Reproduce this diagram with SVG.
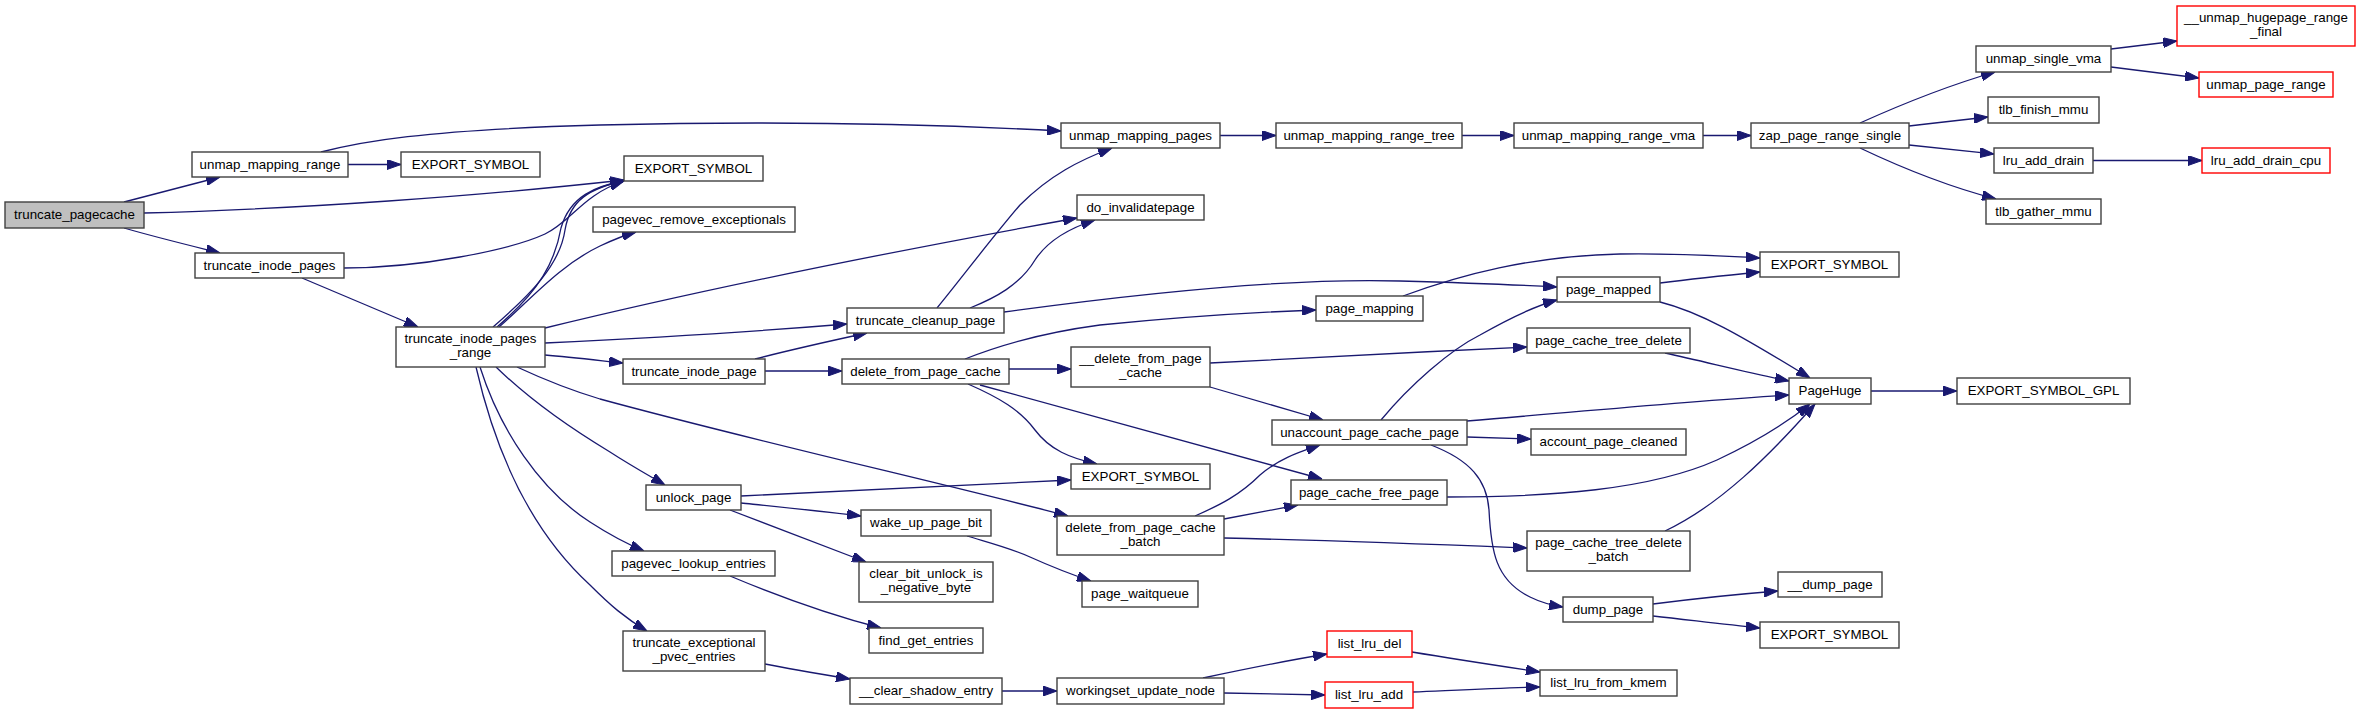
<svg xmlns="http://www.w3.org/2000/svg" width="2360" height="714" viewBox="0 0 2360 714">
<style>
.n rect{fill:#ffffff;stroke:#404040;stroke-width:1.4}
.n.r rect{stroke:#ff0000}
.n.root rect{fill:#bfbfbf}
.n text{font-family:"Liberation Sans",Arial,Helvetica,sans-serif;font-size:13.33px;text-anchor:middle;fill:#000000}
#edges path{fill:none;stroke:#191970;stroke-width:1.3;marker-end:url(#arr)}
</style>
<defs>
<marker id="arr" markerUnits="userSpaceOnUse" markerWidth="14" markerHeight="10" refX="14" refY="5" orient="auto">
<path d="M0,0 L14,5 L0,10 Z" fill="#191970" stroke="#191970" stroke-width="1"/>
</marker>
</defs>
<rect width="2360" height="714" fill="#ffffff"/>
<g id="edges">
<path d="M124,202 C150,195 185,186 220,177"/>
<path d="M144,213 C300,209 480,196 624,180"/>
<path d="M124,228 C155,237 188,245 220,253"/>
<path d="M348,164.5 L401,164.5"/>
<path d="M321,152 C360,142 420,130 600,125 C800,120 950,125 1061,131"/>
<path d="M344,268 C420,268 510,250 545,234 C572,221 582,195 624,181"/>
<path d="M302,278 L418,327"/>
<path d="M493,327 C530,295 560,265 565,230 C570,200 590,188 624,181"/>
<path d="M497,327 C540,290 555,262 561,228 C570,196 596,186 624,181"/>
<path d="M499,327 C530,300 560,265 600,246 C615,239 625,235 636,232"/>
<path d="M545,328 C700,290 900,250 1077,218"/>
<path d="M545,343 C650,338 750,332 847,324"/>
<path d="M545,355 C570,357 595,360 623,363"/>
<path d="M517,367 C545,380 570,390 600,399 C750,440 950,485 1068,516"/>
<path d="M496,367 C530,400 570,428 610,452 C630,465 648,475 665,485"/>
<path d="M480,367 C500,430 540,490 590,522 C610,535 625,543 644,551"/>
<path d="M476,367 C495,450 530,530 590,585 C610,605 625,618 647,631"/>
<path d="M755,359 C790,350 830,341 867,333"/>
<path d="M765,371 L842,371"/>
<path d="M937,308 C960,280 990,240 1020,205 C1050,175 1080,160 1112,148"/>
<path d="M970,308 C995,298 1020,285 1035,260 C1048,240 1070,228 1095,220"/>
<path d="M1004,312 C1150,292 1300,278 1400,281 C1470,283 1520,285 1557,287"/>
<path d="M965,359 C1000,345 1040,333 1100,325 C1200,315 1260,312 1316,310"/>
<path d="M1009,369 L1071,369"/>
<path d="M968,384 C1000,398 1020,410 1035,430 C1050,450 1070,458 1097,464"/>
<path d="M980,385 L1322,479"/>
<path d="M1210,363 C1300,358 1420,352 1527,347"/>
<path d="M1210,387 L1323,420"/>
<path d="M1381,420 C1410,385 1450,350 1480,335 C1510,318 1535,306 1557,300"/>
<path d="M1467,421 C1600,410 1700,400 1789,395"/>
<path d="M1467,437 L1531,439"/>
<path d="M1431,445 C1470,460 1487,480 1489,510 C1491,550 1495,580 1530,597 C1540,602 1550,605 1563,607"/>
<path d="M1195,516 C1220,505 1240,495 1260,475 C1280,458 1300,452 1320,445"/>
<path d="M1224,519 L1298,505"/>
<path d="M1224,538 C1350,541 1450,545 1527,548"/>
<path d="M1447,497 C1550,497 1650,490 1717,460 C1760,440 1790,420 1810,404"/>
<path d="M1665,353 C1710,363 1750,373 1789,381"/>
<path d="M1665,531 C1720,505 1770,455 1815,404"/>
<path d="M1660,283 C1700,278 1730,275 1760,272"/>
<path d="M1660,302 C1700,312 1740,335 1810,378"/>
<path d="M1403,296 C1460,275 1530,256 1620,254 C1680,253 1720,256 1760,258"/>
<path d="M1871,391 L1957,391"/>
<path d="M1653,604 C1700,598 1740,594 1778,591"/>
<path d="M1653,616 C1690,620 1720,624 1760,628"/>
<path d="M741,496 C850,490 960,485 1071,480"/>
<path d="M741,503 C780,507 820,511 861,516"/>
<path d="M730,510 L866,562"/>
<path d="M967,536 C990,543 1010,548 1030,557 C1050,566 1070,574 1091,581"/>
<path d="M730,576 C780,597 830,615 881,628"/>
<path d="M765,664 C790,669 820,674 850,679"/>
<path d="M1002,691 L1057,691"/>
<path d="M1203,678 C1250,668 1290,660 1327,654"/>
<path d="M1224,693 L1325,695"/>
<path d="M1412,652 C1460,660 1500,666 1540,672"/>
<path d="M1413,692 C1460,690 1500,688 1540,687"/>
<path d="M1220,135.5 L1276,135.5"/>
<path d="M1462,135.5 L1514,135.5"/>
<path d="M1703,135.5 L1751,135.5"/>
<path d="M1860,123 C1900,105 1950,85 1995,72"/>
<path d="M1909,126 C1935,123 1960,120 1988,117"/>
<path d="M1909,145 C1935,148 1965,151 1994,154"/>
<path d="M1860,148 C1900,167 1950,187 1996,199"/>
<path d="M2111,49 L2177,41"/>
<path d="M2111,67 L2199,78"/>
<path d="M2093,160.5 L2202,160.5"/>
</g>
<g id="n_truncate_pagecache" class="n root"><rect x="5" y="202" width="139" height="26"/><text x="74.5" y="219">truncate_pagecache</text></g>
<g id="n_unmap_mapping_range" class="n"><rect x="192" y="152" width="156" height="25"/><text x="270" y="169">unmap_mapping_range</text></g>
<g id="n_export_symbol_a" class="n"><rect x="401" y="152" width="139" height="25"/><text x="470.5" y="169">EXPORT_SYMBOL</text></g>
<g id="n_truncate_inode_pages" class="n"><rect x="195" y="253" width="149" height="25"/><text x="269.5" y="270">truncate_inode_pages</text></g>
<g id="n_truncate_inode_pages_range" class="n"><rect x="396" y="327" width="149" height="40"/><text x="470.5" y="343">truncate_inode_pages</text><text x="470.5" y="357">_range</text></g>
<g id="n_export_symbol_b" class="n"><rect x="624" y="156" width="139" height="25"/><text x="693.5" y="173">EXPORT_SYMBOL</text></g>
<g id="n_pagevec_remove_exceptionals" class="n"><rect x="593" y="207" width="202" height="25"/><text x="694" y="224">pagevec_remove_exceptionals</text></g>
<g id="n_unmap_mapping_pages" class="n"><rect x="1061" y="123" width="159" height="25"/><text x="1140.5" y="140">unmap_mapping_pages</text></g>
<g id="n_do_invalidatepage" class="n"><rect x="1077" y="195" width="127" height="25"/><text x="1140.5" y="212">do_invalidatepage</text></g>
<g id="n_truncate_cleanup_page" class="n"><rect x="847" y="308" width="157" height="25"/><text x="925.5" y="325">truncate_cleanup_page</text></g>
<g id="n_truncate_inode_page" class="n"><rect x="623" y="359" width="142" height="25"/><text x="694" y="376">truncate_inode_page</text></g>
<g id="n_delete_from_page_cache" class="n"><rect x="842" y="359" width="167" height="25"/><text x="925.5" y="376">delete_from_page_cache</text></g>
<g id="n___delete_from_page_cache" class="n"><rect x="1071" y="347" width="139" height="40"/><text x="1140.5" y="363">__delete_from_page</text><text x="1140.5" y="377">_cache</text></g>
<g id="n_export_symbol_c" class="n"><rect x="1071" y="464" width="139" height="25"/><text x="1140.5" y="481">EXPORT_SYMBOL</text></g>
<g id="n_unlock_page" class="n"><rect x="646" y="485" width="95" height="25"/><text x="693.5" y="502">unlock_page</text></g>
<g id="n_wake_up_page_bit" class="n"><rect x="861" y="510" width="130" height="26"/><text x="926" y="527">wake_up_page_bit</text></g>
<g id="n_delete_from_page_cache_batch" class="n"><rect x="1057" y="516" width="167" height="39"/><text x="1140.5" y="532">delete_from_page_cache</text><text x="1140.5" y="546">_batch</text></g>
<g id="n_pagevec_lookup_entries" class="n"><rect x="612" y="551" width="163" height="25"/><text x="693.5" y="568">pagevec_lookup_entries</text></g>
<g id="n_clear_bit_unlock_is_negative_byte" class="n"><rect x="859" y="562" width="134" height="40"/><text x="926" y="578">clear_bit_unlock_is</text><text x="926" y="592">_negative_byte</text></g>
<g id="n_page_waitqueue" class="n"><rect x="1082" y="581" width="116" height="26"/><text x="1140" y="598">page_waitqueue</text></g>
<g id="n_find_get_entries" class="n"><rect x="869" y="628" width="114" height="25"/><text x="926" y="645">find_get_entries</text></g>
<g id="n_truncate_exceptional_pvec_entries" class="n"><rect x="623" y="631" width="142" height="40"/><text x="694" y="647">truncate_exceptional</text><text x="694" y="661">_pvec_entries</text></g>
<g id="n___clear_shadow_entry" class="n"><rect x="850" y="678" width="152" height="26"/><text x="926" y="695">__clear_shadow_entry</text></g>
<g id="n_workingset_update_node" class="n"><rect x="1057" y="678" width="167" height="26"/><text x="1140.5" y="695">workingset_update_node</text></g>
<g id="n_unmap_mapping_range_tree" class="n"><rect x="1276" y="123" width="186" height="25"/><text x="1369" y="140">unmap_mapping_range_tree</text></g>
<g id="n_unmap_mapping_range_vma" class="n"><rect x="1514" y="123" width="189" height="25"/><text x="1608.5" y="140">unmap_mapping_range_vma</text></g>
<g id="n_zap_page_range_single" class="n"><rect x="1751" y="123" width="158" height="25"/><text x="1830" y="140">zap_page_range_single</text></g>
<g id="n_export_symbol_d" class="n"><rect x="1760" y="252" width="139" height="25"/><text x="1829.5" y="269">EXPORT_SYMBOL</text></g>
<g id="n_page_mapped" class="n"><rect x="1557" y="277" width="103" height="25"/><text x="1608.5" y="294">page_mapped</text></g>
<g id="n_page_mapping" class="n"><rect x="1316" y="296" width="107" height="25"/><text x="1369.5" y="313">page_mapping</text></g>
<g id="n_page_cache_tree_delete" class="n"><rect x="1527" y="328" width="163" height="25"/><text x="1608.5" y="345">page_cache_tree_delete</text></g>
<g id="n_unaccount_page_cache_page" class="n"><rect x="1272" y="420" width="195" height="25"/><text x="1369.5" y="437">unaccount_page_cache_page</text></g>
<g id="n_account_page_cleaned" class="n"><rect x="1531" y="429" width="155" height="26"/><text x="1608.5" y="446">account_page_cleaned</text></g>
<g id="n_page_cache_free_page" class="n"><rect x="1291" y="480" width="156" height="25"/><text x="1369" y="497">page_cache_free_page</text></g>
<g id="n_page_cache_tree_delete_batch" class="n"><rect x="1527" y="531" width="163" height="40"/><text x="1608.5" y="547">page_cache_tree_delete</text><text x="1608.5" y="561">_batch</text></g>
<g id="n_dump_page" class="n"><rect x="1563" y="597" width="90" height="25"/><text x="1608" y="614">dump_page</text></g>
<g id="n_list_lru_del" class="n r"><rect x="1327" y="631" width="85" height="26"/><text x="1369.5" y="648">list_lru_del</text></g>
<g id="n_list_lru_add" class="n r"><rect x="1325" y="682" width="88" height="26"/><text x="1369" y="699">list_lru_add</text></g>
<g id="n_list_lru_from_kmem" class="n"><rect x="1540" y="670" width="137" height="26"/><text x="1608.5" y="687">list_lru_from_kmem</text></g>
<g id="n_export_symbol_e" class="n"><rect x="1760" y="622" width="139" height="26"/><text x="1829.5" y="639">EXPORT_SYMBOL</text></g>
<g id="n_unmap_single_vma" class="n"><rect x="1976" y="46" width="135" height="26"/><text x="2043.5" y="63">unmap_single_vma</text></g>
<g id="n___unmap_hugepage_range_final" class="n r"><rect x="2177" y="6" width="178" height="40"/><text x="2266" y="22">__unmap_hugepage_range</text><text x="2266" y="36">_final</text></g>
<g id="n_unmap_page_range" class="n r"><rect x="2199" y="72" width="134" height="25"/><text x="2266" y="89">unmap_page_range</text></g>
<g id="n_tlb_finish_mmu" class="n"><rect x="1988" y="97" width="111" height="26"/><text x="2043.5" y="114">tlb_finish_mmu</text></g>
<g id="n_lru_add_drain" class="n"><rect x="1994" y="148" width="99" height="25"/><text x="2043.5" y="165">lru_add_drain</text></g>
<g id="n_lru_add_drain_cpu" class="n r"><rect x="2202" y="148" width="128" height="25"/><text x="2266" y="165">lru_add_drain_cpu</text></g>
<g id="n_tlb_gather_mmu" class="n"><rect x="1986" y="199" width="115" height="25"/><text x="2043.5" y="216">tlb_gather_mmu</text></g>
<g id="n_PageHuge" class="n"><rect x="1789" y="378" width="82" height="26"/><text x="1830" y="395">PageHuge</text></g>
<g id="n_export_symbol_gpl" class="n"><rect x="1957" y="378" width="173" height="26"/><text x="2043.5" y="395">EXPORT_SYMBOL_GPL</text></g>
<g id="n___dump_page" class="n"><rect x="1778" y="572" width="104" height="25"/><text x="1830" y="589">__dump_page</text></g>
</svg>
